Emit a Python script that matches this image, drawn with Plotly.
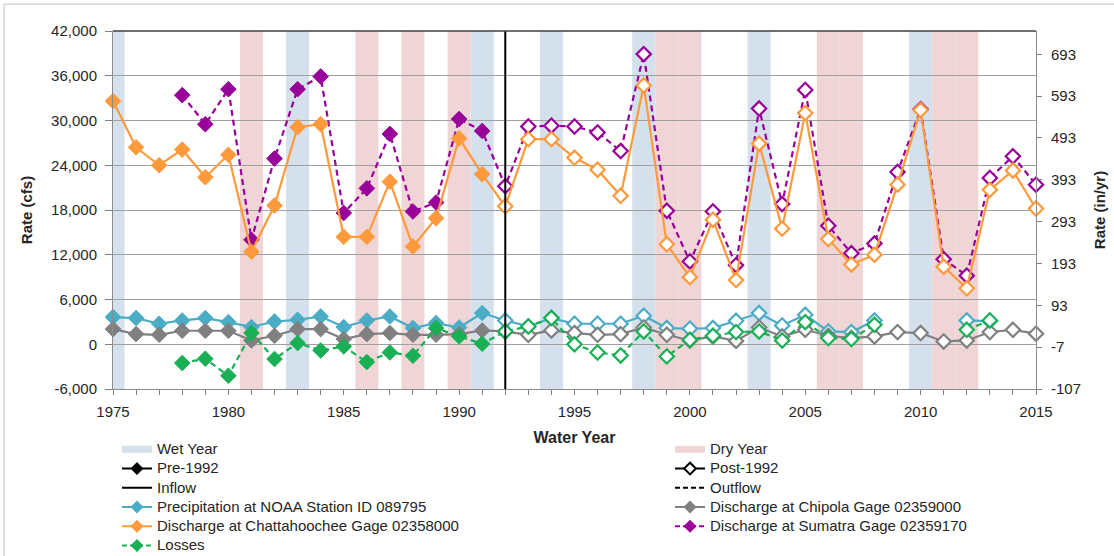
import plotly.graph_objects as go

years = list(range(1975, 2016))

chattahoochee = [32600, 26400, 24000, 26100, 22400, 25400, 12400, 18600, 29100, 29500,
                 14400, 14400, 21800, 13100, 16900, 27600, 22800, 18500, 27500, 27500,
                 25000, 23400, 19900, 34700, 13400, 9000, 16700, 8600, 26900, 15500,
                 31000, 14100, 10700, 12000, 21400, 31400, 10400, 7500, 20700, 23300, 18200]

sumatra = [None, None, None, 33400, 29500, 34200, 14000, 24900, 34200, 35900,
           17600, 20900, 28200, 17800, 19000, 30200, 28600, 21200, 29200, 29300,
           29200, 28400, 25900, 38900, 17900, 11100, 17800, 10600, 31600, 18800,
           34100, 15900, 12200, 13500, 23100, 31500, 11400, 9200, 22300, 25200, 21400]

precipitation = [3640, 3510, 2750, 3190, 3510, 2970, 2300, 3050, 3280, 3720,
                 2300, 3190, 3720, 2170, 2840, 2250, 4180, 3190, 2390, 3510,
                 2750, 2750, 2750, 3820, 2170, 2080, 2170, 3150, 4180, 2520,
                 3950, 1720, 1630, 3190, None, None, None, 3190, 3100, None, None]

chipola = [2030, 1360, 1270, 1810, 1810, 1810, 510, 1140, 2030, 2030,
           700, 1360, 1500, 1270, 1270, 1360, 1850, 1720, 1270, 1850,
           1500, 1270, 1360, 2250, 1270, 510, 1050, 450, 2250, 1050,
           1940, 1140, 830, 1050, 1630, 1500, 380, 510, 1630, 1940, 1410]

losses = [None, None, None, -2520, -1940, -4220, 1500, -1980, 160, -830,
          -290, -2390, -1100, -1540, 2170, 1050, 70, 1720, 2390, 3510,
          0, -1100, -1500, 1720, -1630, 600, 1140, 1630, 1720, 510,
          2970, 830, 700, 2610, None, None, None, 1940, 3190, None, None]

wet_years = [1975, 1983, 1991, 1994, 1998, 2003, 2010]
dry_years = [1981, 1986, 1988, 1990, 1999, 2000, 2006, 2007, 2011, 2012]
split_year = 1992

left_tickvals = [-6000, 0, 6000, 12000, 18000, 24000, 30000, 36000, 42000]
left_ticktext = ["-6,000", "0", "6,000", "12,000", "18,000", "24,000", "30,000", "36,000", "42,000"]
right_tickvals = [-107, -7, 93, 193, 293, 393, 493, 593, 693]
right_ticktext = ["-107", "-7", "93", "193", "293", "393", "493", "593", "693"]
x_tickvals = [1975, 1980, 1985, 1990, 1995, 2000, 2005, 2010, 2015]

WET = "#D4E0EC"
DRY = "#F0D5D7"
ORANGE = "#FF9A3C"
PURPLE = "#990099"
AQUA = "#4BACC6"
GRAY = "#808080"
GREEN = "#19AF55"
FONT = "Arial, Liberation Sans, sans-serif"
TXT = "#262626"
DASH = "6px,4px"
LDASH = "5px,3px"

fig = go.Figure()

series = [
    (precipitation, AQUA, "solid"),
    (chipola, GRAY, "solid"),
    (losses, GREEN, DASH),
    (sumatra, PURPLE, DASH),
    (chattahoochee, ORANGE, "solid"),
]

for vals, color, dash in series:
    fig.add_trace(go.Scatter(x=years, y=vals, mode="lines",
                             line=dict(color=color, width=2.2, dash=dash),
                             showlegend=False, hoverinfo="skip", connectgaps=False))
    pre_x = [yr for yr, v in zip(years, vals) if yr < split_year and v is not None]
    pre_y = [v for yr, v in zip(years, vals) if yr < split_year and v is not None]
    post_x = [yr for yr, v in zip(years, vals) if yr >= split_year and v is not None]
    post_y = [v for yr, v in zip(years, vals) if yr >= split_year and v is not None]
    fig.add_trace(go.Scatter(x=pre_x, y=pre_y, mode="markers", cliponaxis=False,
                             marker=dict(symbol="diamond", size=12, color=color,
                                         line=dict(color=color, width=1)),
                             showlegend=False))
    fig.add_trace(go.Scatter(x=post_x, y=post_y, mode="markers", cliponaxis=False,
                             marker=dict(symbol="diamond", size=11, color="white",
                                         line=dict(color=color, width=2.2)),
                             showlegend=False))

# invisible trace to activate the secondary axis
fig.add_trace(go.Scatter(x=[None], y=[None], yaxis="y2", showlegend=False, hoverinfo="skip"))


def lbl(t):
    return '<span style="font-size:15px">' + t + '</span>'


legend_left = [
    ("Wet Year", dict(mode="lines", line=dict(color=WET, width=7))),
    ("Pre-1992", dict(mode="lines+markers", line=dict(color="black", width=2),
                      marker=dict(symbol="diamond", size=10, color="black"))),
    ("Inflow", dict(mode="lines", line=dict(color="black", width=2))),
    ("Precipitation at NOAA Station ID 089795", dict(mode="lines+markers", line=dict(color=AQUA, width=2),
                      marker=dict(symbol="diamond", size=10, color=AQUA))),
    ("Discharge at Chattahoochee Gage 02358000", dict(mode="lines+markers", line=dict(color=ORANGE, width=2),
                      marker=dict(symbol="diamond", size=10, color=ORANGE))),
    ("Losses", dict(mode="lines+markers", line=dict(color=GREEN, width=2, dash=LDASH),
                    marker=dict(symbol="diamond", size=10, color=GREEN))),
]
legend_right = [
    ("Dry Year", dict(mode="lines", line=dict(color=DRY, width=7))),
    ("Post-1992", dict(mode="lines+markers", line=dict(color="black", width=2),
                       marker=dict(symbol="diamond", size=9, color="white",
                                   line=dict(color="black", width=2)))),
    ("Outflow", dict(mode="lines", line=dict(color="black", width=2, dash=LDASH))),
    ("Discharge at Chipola Gage 02359000", dict(mode="lines+markers", line=dict(color=GRAY, width=2),
                       marker=dict(symbol="diamond", size=10, color=GRAY))),
    ("Discharge at Sumatra Gage 02359170", dict(mode="lines+markers", line=dict(color=PURPLE, width=2, dash=LDASH),
                       marker=dict(symbol="diamond", size=10, color=PURPLE))),
]
for name, kw in legend_left:
    fig.add_trace(go.Scatter(x=[None], y=[None], name=lbl(name), legend="legend", **kw))
for name, kw in legend_right:
    fig.add_trace(go.Scatter(x=[None], y=[None], name=lbl(name), legend="legend2", **kw))

shapes = []
x_lo, x_hi = years[0], years[-1]
for yr in wet_years:
    shapes.append(dict(type="rect", xref="x", yref="paper", x0=max(yr - 0.5, x_lo), x1=min(yr + 0.5, x_hi),
                       y0=0, y1=1, fillcolor=WET, line=dict(width=0), layer="below"))
for yr in dry_years:
    shapes.append(dict(type="rect", xref="x", yref="paper", x0=max(yr - 0.5, x_lo), x1=min(yr + 0.5, x_hi),
                       y0=0, y1=1, fillcolor=DRY, line=dict(width=0), layer="below"))
shapes.append(dict(type="line", xref="x", yref="paper", x0=split_year, x1=split_year, y0=0, y1=1,
                   line=dict(color="black", width=2)))
shapes.append(dict(type="line", xref="paper", yref="paper", x0=0, x1=1, y0=1, y1=1,
                   line=dict(color="#404040", width=1.5)))
# outer chart frame
shapes.append(dict(type="rect", xref="paper", yref="paper", x0=-0.118, x1=1.3, y0=-0.6, y1=1.075,
                   line=dict(color="#BFBFBF", width=1), fillcolor="rgba(0,0,0,0)"))

legend_common = dict(bgcolor="rgba(0,0,0,0)", borderwidth=0,
                     font=dict(family=FONT, size=12.5, color=TXT),
                     orientation="v", yanchor="top", xanchor="left", y=-0.1276)

fig.update_layout(
    width=1114, height=556,
    margin=dict(l=113, r=78, t=31, b=167, autoexpand=False),
    paper_bgcolor="white", plot_bgcolor="rgba(0,0,0,0)",
    font=dict(family=FONT, size=15, color=TXT),
    shapes=shapes,
    showlegend=True,
    legend=dict(x=0.0043, **legend_common),
    legend2=dict(x=0.6035, **legend_common),
    xaxis=dict(range=[1975, 2015], tickvals=x_tickvals, ticks="outside", ticklen=5,
               tickcolor="#808080", showline=True, linecolor="#8C8C8C", linewidth=1,
               showgrid=False, zeroline=False, ticklabelstandoff=4,
               minor=dict(dtick=1, tick0=1975, ticks="outside", ticklen=5, tickcolor="#808080", showgrid=False),
               title=dict(text="<b>Water Year</b>", font=dict(size=16), standoff=12)),
    yaxis=dict(range=[-6000, 42000], tickvals=left_tickvals, ticktext=left_ticktext,
               ticks="outside", ticklen=7, tickcolor="#808080", showline=True, linecolor="#8C8C8C",
               showgrid=True, gridcolor="#A0A0A0", gridwidth=1.2, zeroline=False, ticklabelstandoff=5,
               title=dict(text="<b>Rate (cfs)</b>", font=dict(size=15), standoff=14)),
    yaxis2=dict(range=[-107, 748.6], overlaying="y", side="right", tickvals=right_tickvals,
                ticktext=right_ticktext, ticks="outside", ticklen=5, tickcolor="#808080",
                showline=True, linecolor="#8C8C8C", showgrid=False, zeroline=False, ticklabelstandoff=6,
                title=dict(text="<b>Rate (in/yr)</b>", font=dict(size=15), standoff=14)),
)

fig.write_html("out.html", config={"displayModeBar": False},
               post_script="document.body.style.margin='0';")
